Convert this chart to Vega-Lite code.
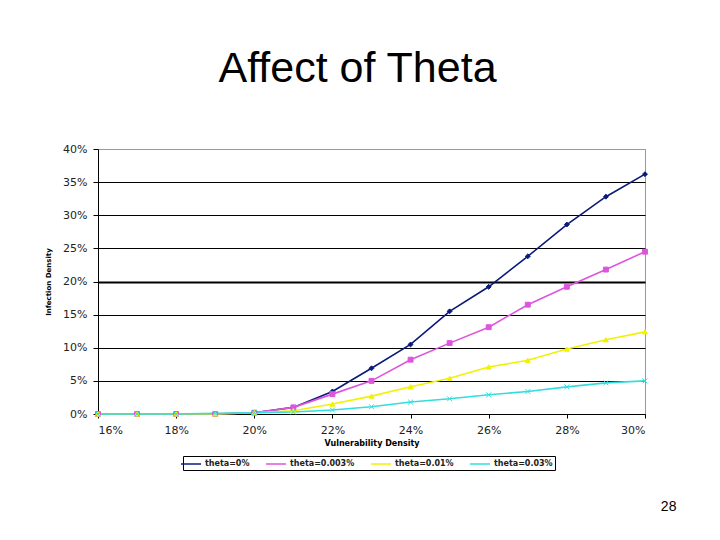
{
  "$schema": "https://vega.github.io/schema/vega-lite/v6.json",
  "background": "white",
  "padding": {"left": 44, "top": 47, "right": 5, "bottom": 5},
  "title": {
    "text": "Affect of Theta",
    "font": "Liberation Sans",
    "fontSize": 43,
    "fontWeight": "normal",
    "color": "black",
    "anchor": "middle",
    "baseline": "alphabetic",
    "offset": 18,
    "dx": -3
  },
  "config": {
    "view": {"stroke": "#999999", "strokeWidth": 1},
    "axis": {
      "labelFont": "DejaVu Sans",
      "labelFontSize": 11,
      "labelColor": "#222222",
      "titleFont": "DejaVu Sans",
      "titleFontWeight": "bold",
      "titleColor": "black",
      "domainColor": "black",
      "tickColor": "black"
    }
  },
  "resolve": {
    "scale": {"color": "independent"},
    "legend": {"color": "independent"}
  },
  "vconcat": [
    {
      "width": 547,
      "height": 265,
      "title": {
        "text": "28",
        "orient": "bottom",
        "anchor": "end",
        "font": "Liberation Sans",
        "fontSize": 14,
        "fontWeight": "normal",
        "color": "black",
        "baseline": "top",
        "offset": 29,
        "dx": 27
      },
      "data": {
        "values": [
          {"v": 0.16, "d": 0, "s": "theta=0%"},
          {"v": 0.17, "d": 0, "s": "theta=0%"},
          {"v": 0.18, "d": 0, "s": "theta=0%"},
          {"v": 0.19, "d": 0, "s": "theta=0%"},
          {"v": 0.20, "d": 0.002, "s": "theta=0%"},
          {"v": 0.21, "d": 0.010, "s": "theta=0%"},
          {"v": 0.22, "d": 0.034, "s": "theta=0%"},
          {"v": 0.23, "d": 0.069, "s": "theta=0%"},
          {"v": 0.24, "d": 0.105, "s": "theta=0%"},
          {"v": 0.25, "d": 0.155, "s": "theta=0%"},
          {"v": 0.26, "d": 0.192, "s": "theta=0%"},
          {"v": 0.27, "d": 0.238, "s": "theta=0%"},
          {"v": 0.28, "d": 0.286, "s": "theta=0%"},
          {"v": 0.29, "d": 0.328, "s": "theta=0%"},
          {"v": 0.30, "d": 0.362, "s": "theta=0%"},
          {"v": 0.16, "d": 0, "s": "theta=0.003%"},
          {"v": 0.17, "d": 0, "s": "theta=0.003%"},
          {"v": 0.18, "d": 0, "s": "theta=0.003%"},
          {"v": 0.19, "d": 0, "s": "theta=0.003%"},
          {"v": 0.20, "d": 0.002, "s": "theta=0.003%"},
          {"v": 0.21, "d": 0.010, "s": "theta=0.003%"},
          {"v": 0.22, "d": 0.030, "s": "theta=0.003%"},
          {"v": 0.23, "d": 0.050, "s": "theta=0.003%"},
          {"v": 0.24, "d": 0.082, "s": "theta=0.003%"},
          {"v": 0.25, "d": 0.107, "s": "theta=0.003%"},
          {"v": 0.26, "d": 0.131, "s": "theta=0.003%"},
          {"v": 0.27, "d": 0.165, "s": "theta=0.003%"},
          {"v": 0.28, "d": 0.192, "s": "theta=0.003%"},
          {"v": 0.29, "d": 0.218, "s": "theta=0.003%"},
          {"v": 0.30, "d": 0.245, "s": "theta=0.003%"},
          {"v": 0.16, "d": 0, "s": "theta=0.01%"},
          {"v": 0.17, "d": 0, "s": "theta=0.01%"},
          {"v": 0.18, "d": 0, "s": "theta=0.01%"},
          {"v": 0.19, "d": 0, "s": "theta=0.01%"},
          {"v": 0.20, "d": 0.002, "s": "theta=0.01%"},
          {"v": 0.21, "d": 0.005, "s": "theta=0.01%"},
          {"v": 0.22, "d": 0.015, "s": "theta=0.01%"},
          {"v": 0.23, "d": 0.027, "s": "theta=0.01%"},
          {"v": 0.24, "d": 0.041, "s": "theta=0.01%"},
          {"v": 0.25, "d": 0.054, "s": "theta=0.01%"},
          {"v": 0.26, "d": 0.071, "s": "theta=0.01%"},
          {"v": 0.27, "d": 0.081, "s": "theta=0.01%"},
          {"v": 0.28, "d": 0.098, "s": "theta=0.01%"},
          {"v": 0.29, "d": 0.112, "s": "theta=0.01%"},
          {"v": 0.30, "d": 0.124, "s": "theta=0.01%"},
          {"v": 0.16, "d": 0, "s": "theta=0.03%"},
          {"v": 0.17, "d": 0, "s": "theta=0.03%"},
          {"v": 0.18, "d": 0, "s": "theta=0.03%"},
          {"v": 0.19, "d": 0.001, "s": "theta=0.03%"},
          {"v": 0.20, "d": 0.002, "s": "theta=0.03%"},
          {"v": 0.21, "d": 0.003, "s": "theta=0.03%"},
          {"v": 0.22, "d": 0.006, "s": "theta=0.03%"},
          {"v": 0.23, "d": 0.011, "s": "theta=0.03%"},
          {"v": 0.24, "d": 0.018, "s": "theta=0.03%"},
          {"v": 0.25, "d": 0.023, "s": "theta=0.03%"},
          {"v": 0.26, "d": 0.029, "s": "theta=0.03%"},
          {"v": 0.27, "d": 0.034, "s": "theta=0.03%"},
          {"v": 0.28, "d": 0.041, "s": "theta=0.03%"},
          {"v": 0.29, "d": 0.047, "s": "theta=0.03%"},
          {"v": 0.30, "d": 0.050, "s": "theta=0.03%"}
        ]
      },
      "encoding": {
        "x": {
          "field": "v",
          "type": "quantitative",
          "scale": {"domain": [0.16, 0.30], "nice": false, "zero": false},
          "axis": {
            "values": [0.16, 0.18, 0.20, 0.22, 0.24, 0.26, 0.28, 0.30],
            "format": ".0%",
            "grid": false,
            "tickSize": 4,
            "labelPadding": 6,
            "title": "Vulnerability Density",
            "titleFontSize": 8,
            "titlePadding": 4
          }
        },
        "y": {
          "field": "d",
          "type": "quantitative",
          "scale": {"domain": [0, 0.4], "nice": false},
          "axis": {
            "values": [0, 0.05, 0.1, 0.15, 0.2, 0.25, 0.3, 0.35, 0.4],
            "format": ".0%",
            "grid": true,
            "gridColor": {"condition": {"test": "datum.value >= 0.39", "value": "#999999"}, "value": "black"},
            "gridWidth": {"condition": {"test": "abs(datum.value - 0.2) < 0.001", "value": 2.2}, "value": 1},
            "gridOpacity": 1,
            "tickSize": 5,
            "labelPadding": 6,
            "title": "Infection Density",
            "titleFontSize": 7,
            "titlePadding": 11
          }
        }
      },
      "layer": [
        {
          "mark": {"type": "line", "strokeWidth": 1.6},
          "encoding": {
            "color": {
              "field": "s",
              "type": "nominal",
              "scale": {
                "domain": ["theta=0%", "theta=0.003%", "theta=0.01%", "theta=0.03%"],
                "range": ["#0a1a78", "#dd55dd", "#f2f200", "#33dddd"]
              },
              "legend": {
                "orient": "none",
                "legendX": 85,
                "legendY": 307,
                "direction": "horizontal",
                "title": null,
                "strokeColor": "black",
                "padding": 2,
                "labelFont": "DejaVu Sans",
                "labelFontSize": 8,
                "labelFontWeight": "bold",
                "labelColor": "#222222",
                "symbolType": "M-2,0H2",
                "symbolSize": 100,
                "symbolStrokeWidth": 1.5,
                "labelOffset": 8,
                "columnPadding": 13
              }
            }
          }
        },
        {
          "mark": {"type": "point", "filled": true, "size": 24, "strokeWidth": 1, "opacity": 1},
          "encoding": {
            "fill": {
              "field": "s",
              "type": "nominal",
              "scale": {
                "domain": ["theta=0%", "theta=0.003%", "theta=0.01%", "theta=0.03%"],
                "range": ["#0a1a78", "#dd55dd", "#f2f200", "#33dddd"]
              },
              "legend": null
            },
            "stroke": {
              "field": "s",
              "type": "nominal",
              "scale": {
                "domain": ["theta=0%", "theta=0.003%", "theta=0.01%", "theta=0.03%"],
                "range": ["#0a1a78", "#dd55dd", "#f2f200", "#33dddd"]
              },
              "legend": null
            },
            "shape": {
              "field": "s",
              "type": "nominal",
              "scale": {
                "domain": ["theta=0%", "theta=0.003%", "theta=0.01%", "theta=0.03%"],
                "range": ["diamond", "square", "triangle-up", "M-1,-1L1,1M-1,1L1,-1"]
              },
              "legend": null
            }
          }
        }
      ]
    }
  ]
}
